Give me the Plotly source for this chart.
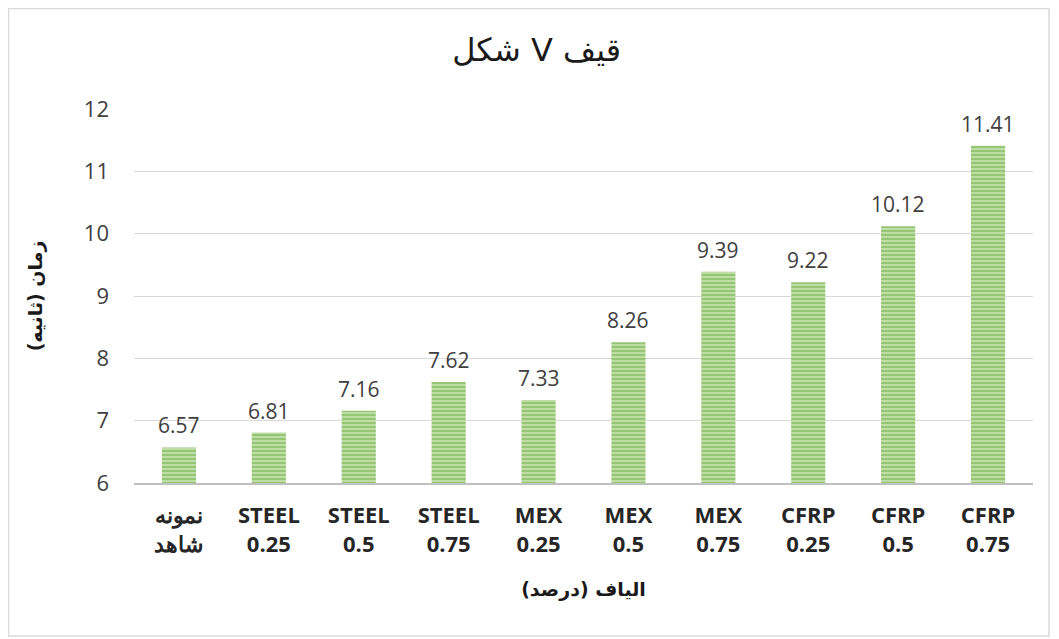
import plotly.graph_objects as go

categories = ["نمونه<br>شاهد", "STEEL<br>0.25", "STEEL<br>0.5", "STEEL<br>0.75",
              "MEX<br>0.25", "MEX<br>0.5", "MEX<br>0.75",
              "CFRP<br>0.25", "CFRP<br>0.5", "CFRP<br>0.75"]
values = [6.57, 6.81, 7.16, 7.62, 7.33, 8.26, 9.39, 9.22, 10.12, 11.41]
labels = ["6.57", "6.81", "7.16", "7.62", "7.33", "8.26", "9.39", "9.22", "10.12", "11.41"]
y_ticks = [6, 7, 8, 9, 10, 11, 12]

title_text = "\u202Bقیف V شکل\u202C"
x_title = "الياف (درصد)"
y_title = "زمان (ثانیه)"

fig = go.Figure()
fig.add_trace(go.Bar(
    x=categories, y=values,
    cliponaxis=False,
    marker=dict(
        color="#c3e1ad",
        line=dict(width=0),
        pattern=dict(shape="-", size=4, solidity=0.6, fgcolor="#65a83c", bgcolor="#c6e3b0"),
    ),
))

for c, v, t in zip(categories, values, labels):
    fig.add_annotation(x=c, y=v, text=t, showarrow=False, xref="x", yref="y",
                       yanchor="middle", yshift=22,
                       font=dict(family="Open Sans, sans-serif", size=21, color="#404040"))

fig.update_layout(
    width=1051, height=631,
    margin=dict(l=126, r=26, t=101, b=156),
    paper_bgcolor="white", plot_bgcolor="white",
    bargap=0.62,
    showlegend=False,
    title=dict(text=title_text, x=0.503, xanchor="center", y=0.933, yanchor="middle",
               font=dict(family="DejaVu Sans, sans-serif", size=32, color="#1a1a1a")),
    xaxis=dict(
        tickfont=dict(family="Open Sans, sans-serif", size=22, color="#262626", weight="bold"),
        showgrid=False, showline=True, linecolor="#c0c0c0", linewidth=2,
        ticks="", ticklabelstandoff=12,
        title=dict(text=x_title, standoff=26,
                   font=dict(family="DejaVu Sans, sans-serif", size=19, color="#1a1a1a", weight="bold")),
    ),
    yaxis=dict(
        range=[6, 12], tickvals=y_ticks,
        tickfont=dict(family="Open Sans, sans-serif", size=22, color="#404040"),
        showgrid=True, gridcolor="#d9d9d9", gridwidth=1, zeroline=False,
        ticks="", ticklabelstandoff=24,
        title=dict(text=y_title, standoff=36,
                   font=dict(family="DejaVu Sans, sans-serif", size=19, color="#1a1a1a", weight="bold")),
    ),
)

fig.add_shape(type="rect", xref="paper", yref="paper",
              x0=-0.1396, x1=1.0178, y0=-0.409, y1=1.2687,
              line=dict(color="#d9d9d9", width=1.5), layer="below")

fig.write_html("out.html")
